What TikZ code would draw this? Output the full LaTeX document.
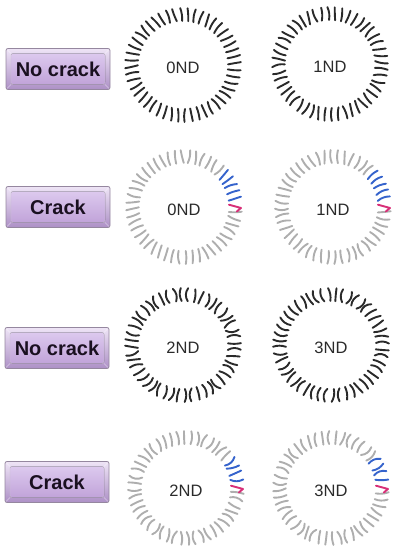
\documentclass[tikz,border=0pt]{standalone}
\usepackage{fontspec}
\setmainfont{Liberation Sans}
\usetikzlibrary{calc}

\definecolor{ink}{HTML}{2A2A2A}
\definecolor{pale}{HTML}{AEAEAE}
\definecolor{crackblue}{HTML}{3563CC}
\definecolor{crackpink}{HTML}{D82F78}
\definecolor{btnedge}{HTML}{95879F}
\definecolor{btntop}{HTML}{EEE4F6}
\definecolor{btnbot}{HTML}{AD90C6}
\definecolor{facetop}{HTML}{DCC9EE}
\definecolor{facebot}{HTML}{C1A3D9}
\definecolor{btntext}{HTML}{1A1020}

\tikzset{
  dashline/.style={line width=1.9pt, line cap=round, line join=round},
  skipmark/.style={draw=none},
  ndlabel/.style={font=\fontsize{16.5}{17}\selectfont, text=ink, inner sep=0pt},
  btn/.style={draw=btnedge, line width=0.8pt, rounded corners=2pt,
    minimum width=104pt, minimum height=41pt, inner sep=0pt,
    top color=btntop, bottom color=btnbot,
    font=\bfseries\fontsize{20}{20}\selectfont, text=btntext,
    path picture={
      \coordinate (pnw) at (path picture bounding box.north west);
      \coordinate (pse) at (path picture bounding box.south east);
      \coordinate (pne) at (path picture bounding box.north east);
      \coordinate (psw) at (path picture bounding box.south west);
      \fill[top color=facetop, bottom color=facebot]
        ($(pnw)+(5,-5)$) rectangle ($(pse)+(-5,5)$);
      \draw[white, opacity=0.5, line width=0.6pt]
        (pnw) -- ($(pnw)+(5,-5)$) (pne) -- ($(pne)+(-5,-5)$)
        (psw) -- ($(psw)+(5,5)$) (pse) -- ($(pse)+(-5,5)$);
      \draw[btnedge!50, line width=0.4pt]
        ($(pnw)+(5,-5)$) rectangle ($(pse)+(-5,5)$);
    }},
}

% \dashring{name}{x}{y}{seed}{label}{number of blue marks, 0 = intact ring}{curl}
\newcommand\dashring[7]{%
  \coordinate (#1) at (#2,#3);
  \pgfmathsetseed{#4}
  \foreach \k in {0,...,47}{
    \pgfmathsetmacro\ang{\k*7.5+2}
    \pgfmathsetmacro\tlt{\ang+rand*12}
    \pgfmathsetmacro\bnd{rand*#7}
    \ifnum#6=0 \def\col{ink}\else
      \ifnum\k=0 \def\col{skipmark}\else
        \ifnum\k>#6 \def\col{pale}\else\def\col{crackblue}\fi\fi\fi
    \draw[dashline, \col]
      ($(#1)+(\ang:51.5 and 50.5)+(\tlt:-6.5)$) to[bend left=\bnd]
      ($(#1)+(\ang:51.5 and 50.5)+(\tlt:6.5)$);
  }
  % the crack mark: a bent stroke just below the horizontal
  \ifnum#6>0
    \draw[dashline, crackpink]
      ($(#1)+(3:45 and 44)$) -- ($(#1)+(-1:57 and 56)$) -- ($(#1)+(-5:53 and 52)$);
  \fi
  \node[ndlabel] (#1-t) at ($(#1)+(0,-3)$) {#5};
}

\begin{document}
\begin{tikzpicture}[x=1pt, y=1pt]
  \useasboundingbox (0,0) rectangle (394,555);

  % condition buttons
  \node[btn] (b1) at (58,486) {No crack};
  \node[btn] (b2) at (58,348) {Crack};
  \node[btn] (b3) at (57,207) {No crack};
  \node[btn] (b4) at (57,73) {Crack};

  % intact rings
  \dashring{r1a}{183}{490}{11}{0ND}{0}{14}
  \dashring{r1b}{330}{491}{23}{1ND}{0}{22}
  % cracked rings
  \dashring{r2a}{184}{348}{37}{0ND}{5}{16}
  \dashring{r2b}{333}{348}{41}{1ND}{5}{22}
  % intact rings, later stage
  \dashring{r3a}{183}{210}{53}{2ND}{0}{34}
  \dashring{r3b}{331}{210}{67}{3ND}{0}{38}
  % cracked rings, later stage
  \dashring{r4a}{186}{67}{71}{2ND}{4}{34}
  \dashring{r4b}{331}{67}{89}{3ND}{4}{36}
\end{tikzpicture}
\end{document}
